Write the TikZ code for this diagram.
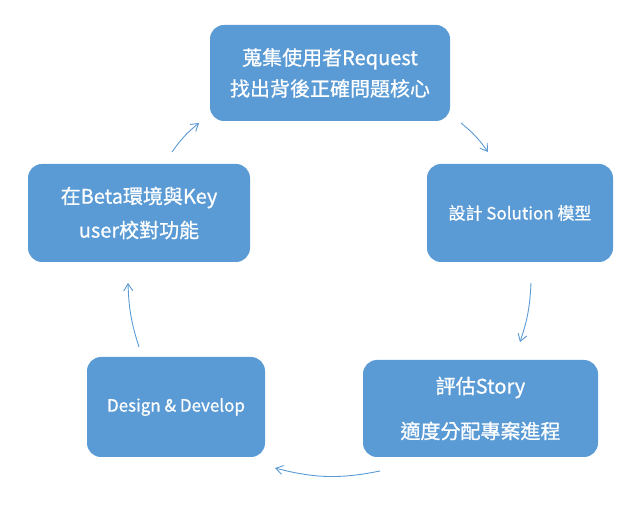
\documentclass[tikz,border=0pt]{standalone}
\usepackage{fontspec}
\setmainfont{Noto Sans CJK TC}[FakeBold=0.7]
\usetikzlibrary{arrows.meta}
\definecolor{boxblue}{RGB}{91,155,213}
\begin{document}
\begin{tikzpicture}[x=1pt,y=-1pt,
  box/.style={fill=boxblue,draw=none,rounded corners=14pt,text=white,align=center,inner sep=0pt},
  conn/.style={draw=boxblue,line width=0.9pt,-{Straight Barb[length=7pt,width=9pt,line width=0.9pt]}}]
\useasboundingbox (0,0) rectangle (641,505);
\node[box,minimum width=240pt,minimum height=96pt,font=\fontsize{20}{31}\selectfont] (a) at (330,73) {蒐集使用者Request\\找出背後正確問題核心};
\node[box,minimum width=186pt,minimum height=98pt,font=\fontsize{17}{22}\selectfont] (b) at (520,213) {設計 Solution 模型};
\node[box,minimum width=235pt,minimum height=97pt,font=\fontsize{20}{45}\selectfont] (c) at (480.5,408.5) {評估Story\\適度分配專案進程};
\node[box,minimum width=178pt,minimum height=100pt,font=\fontsize{17}{22}\selectfont] (d) at (176,407) {Design \& Develop};
\node[box,minimum width=222pt,minimum height=98pt,font=\fontsize{20}{34}\selectfont] (e) at (139,213) {在Beta環境與Key\\user校對功能};
\coordinate (a1s) at (461,123); \coordinate (a1e) at (488,152);
\coordinate (a2s) at (531,283); \coordinate (a2e) at (520,342);
\coordinate (a3s) at (380,471); \coordinate (a3e) at (275,468);
\coordinate (a4s) at (139,347); \coordinate (a4e) at (128,283);
\coordinate (a5s) at (172,152); \coordinate (a5e) at (199,123);
\draw[conn] (a1s) to[bend left=8] (a1e);
\draw[conn] (a2s) to[bend left=8] (a2e);
\draw[conn] (a3s) to[bend left=13] (a3e);
\draw[conn] (a4s) to[bend left=8] (a4e);
\draw[conn] (a5s) to[bend left=8] (a5e);
\end{tikzpicture}
\end{document}
